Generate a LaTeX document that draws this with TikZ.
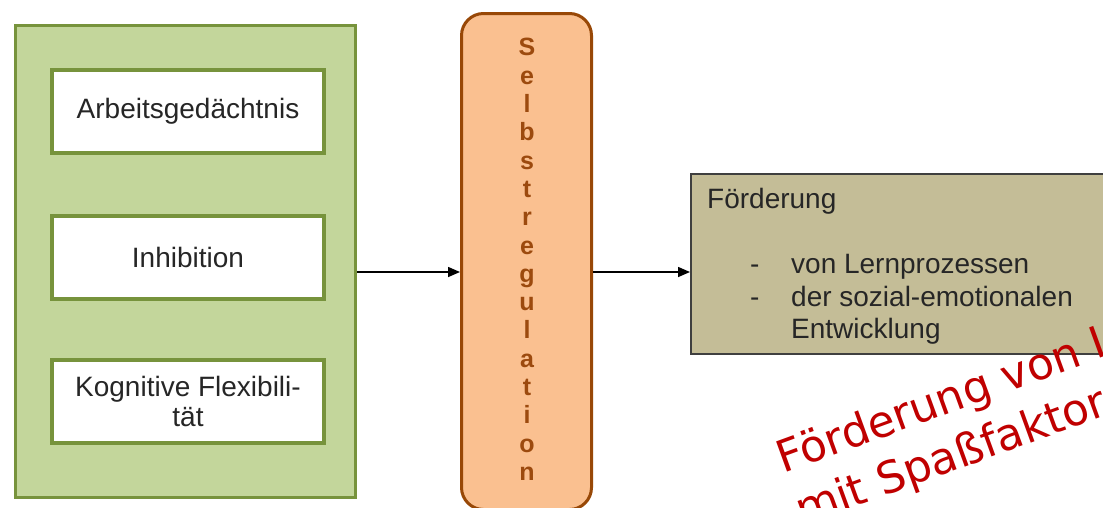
\documentclass[tikz,border=0pt]{standalone}
\usepackage{fontspec}
\setmainfont{Liberation Sans}
\newfontfamily\redfont{DejaVu Sans}
\usetikzlibrary{arrows.meta}
\definecolor{gborder}{HTML}{77933C}
\definecolor{gfill}{HTML}{C3D69B}
\definecolor{oborder}{HTML}{984807}
\definecolor{ofill}{HTML}{FAC090}
\definecolor{otext}{HTML}{9C4A0E}
\definecolor{bfill}{HTML}{C4BD97}
\definecolor{bborder}{HTML}{3F3F3F}
\definecolor{redtxt}{HTML}{C00000}
\definecolor{txt}{HTML}{262626}
\begin{document}
\begin{tikzpicture}[x=1pt,y=-1pt,
  outerbox/.style={draw=gborder, fill=gfill, line width=3pt, inner sep=0pt, minimum width=340pt, minimum height=472pt},
  innerbox/.style={draw=gborder, fill=white, line width=4pt, minimum width=272pt, minimum height=83pt, inner sep=0pt, align=center, font=\fontsize{28}{30}\selectfont, text=txt},
  srbox/.style={draw=oborder, fill=ofill, line width=3pt, rounded corners=22pt, minimum width=130pt, minimum height=496pt, inner sep=0pt},
  srtext/.style={inner sep=0pt, align=center, text=otext, font=\bfseries\fontsize{25}{28.3}\selectfont},
  foerdbox/.style={draw=bborder, fill=bfill, line width=2pt, minimum width=424pt, minimum height=180pt, inner sep=0pt},
  btext/.style={anchor=base west, inner sep=0pt, text=txt, font=\fontsize{28}{32}\selectfont},
  arr/.style={-{Triangle[length=12pt,width=10pt]}, line width=1.5pt, black},
  redlabel/.style={anchor=base west, inner sep=0pt, text=redtxt, rotate=20, font=\redfont\fontsize{44}{55}\selectfont}
]
\useasboundingbox (0,0) rectangle (1103,507);
\fill[white] (0,0) rectangle (1103,507);

\node[outerbox] (green) at (185.5,261.5) {};
\node[innerbox] (ag) at (188,111.5) {Arbeitsgedächtnis};
\node[innerbox] (inh) at (188,257.5) {Inhibition};
\node[innerbox] (kf) at (188,401) {Kognitive Flexibili-\\tät};

\node[srbox] (sr) at (526.5,261.5) {};
\node[srtext] (srt) at (527,259.5) {S\\e\\l\\b\\s\\t\\r\\e\\g\\u\\l\\a\\t\\i\\o\\n};

\node[foerdbox] (foerd) at (903,264) {};
\node[btext] (f0) at (707,208) {Förderung};
\node[btext] (d1) at (750,273) {-};
\node[btext] (l1) at (791,273) {von Lernprozessen};
\node[btext] (d2) at (750,306) {-};
\node[btext] (l2) at (791,306) {der sozial-emotionalen};
\node[btext] (l3) at (791,338.5) {Entwicklung};

\coordinate (ay) at (0,272);
\draw[arr] (green.east |- ay) -- (sr.west |- ay);
\draw[arr] (sr.east |- ay) -- (foerd.west |- ay);

\node[redlabel] (fun1) at (783,474) {Förderung von L};
\node[redlabel] (fun2) at (802,526) {mit Spaßfaktor};
\end{tikzpicture}
\end{document}
